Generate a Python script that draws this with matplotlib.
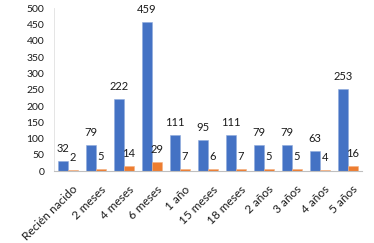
import matplotlib
matplotlib.use("Agg")
import matplotlib.pyplot as plt
import matplotlib.transforms as mtransforms
import numpy as np

plt.rcParams['font.family'] = ['Lato', 'DejaVu Sans']

categories = ["Recién nacido", "2 meses", "4 meses", "6 meses", "1 año", "15 meses",
              "18 meses", "2 años", "3 años", "4 años", "5 años"]
series_blue = [32, 79, 222, 459, 111, 95, 111, 79, 79, 63, 253]
series_orange = [2, 5, 14, 29, 7, 6, 7, 5, 5, 4, 16]
yticks = list(range(0, 501, 50))

fig = plt.figure(figsize=(3.74, 2.43), dpi=100)
ax = fig.add_axes([54/374, 1 - 171/243, (362-54)/374, (171-8.5)/243])

x = np.arange(len(categories))
w = 0.357
ax.bar(x - w/2, series_blue, w, color='#4472C4', edgecolor='#8FAADC', linewidth=0.4)
ax.bar(x + w/2, series_orange, w, color='#ED7D31', edgecolor='#F4B183', linewidth=0.4)

for xi, v in zip(x - w/2, series_blue):
    ax.annotate(str(v), (xi, v), xytext=(0, 9), textcoords='offset points',
                ha='center', va='center', fontsize=8, color='#1a1a1a')
for xi, v in zip(x + w/2, series_orange):
    ax.annotate(str(v), (xi, v), xytext=(0, 9), textcoords='offset points',
                ha='center', va='center', fontsize=8, color='#1a1a1a')

ax.set_xlim(-0.5, len(categories) - 0.5)
ax.set_ylim(0, 500)
ax.set_yticks(yticks)
ax.set_yticklabels([str(t) for t in yticks], fontsize=7.5, color='#1a1a1a')
ax.set_xticks(x)
ax.set_xticklabels(categories, rotation=45, ha='right', rotation_mode='anchor',
                   fontsize=8.5, color='#1a1a1a')
ax.tick_params(axis='both', length=0)
ax.tick_params(axis='y', pad=7)
ax.tick_params(axis='x', pad=9)
shift = mtransforms.ScaledTranslation(4/100, 0, fig.dpi_scale_trans)
for lab in ax.get_xticklabels():
    lab.set_transform(lab.get_transform() + shift)

for s in ['top', 'right']:
    ax.spines[s].set_visible(False)
ax.spines['left'].set_color('#E0E0E0')
ax.spines['left'].set_linewidth(0.6)
ax.spines['bottom'].set_color('#BFBFBF')
ax.spines['bottom'].set_linewidth(0.8)

fig.savefig('out.png', dpi=100)
